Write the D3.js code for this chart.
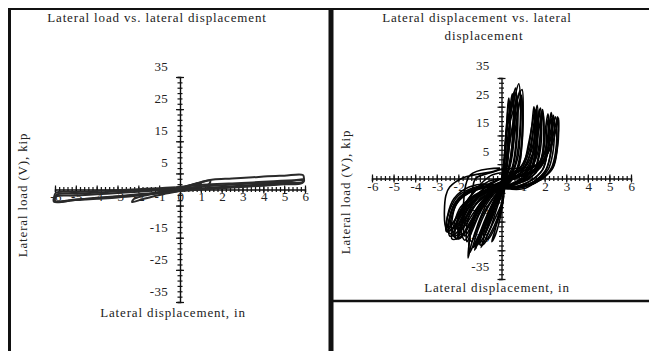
<!DOCTYPE html>
<html>
<head>
<meta charset="utf-8">
<script src="https://cdn.jsdelivr.net/npm/d3@7"></script>
<style>
  body { margin: 0; background: #fff; }
  svg text { font-family: "Liberation Serif", serif; font-size: 13px; fill: #222; letter-spacing: 0.85px; }
  svg text.tick-label { letter-spacing: 0.3px; }
</style>
</head>
<body>
<div id="chart"></div>
<script>
// tick values shared by both panels
const xTickValues = [-6, -5, -4, -3, -2, -1, 0, 1, 2, 3, 4, 5, 6];
const yTickValues = [35, 25, 15, 5, -15, -25, -35];
const yMajorValues = [35, 25, 15, 5, -5, -15, -25, -35];

// left panel: lateral load vs lateral displacement (disp in, load kip)
const leftLoops = [
  [[0,0],[0.4,1.0],[0.8,1.8],[1.0,2.1],[0.95,1.2],[0.6,0.5],[0.2,0],[0,-0.2],[-0.4,-0.6],[-0.8,-1.1],[-1.0,-1.4],[-0.9,-0.8],[-0.5,-0.2],[-0.1,0.2],[0,0.2]],
  [[0,0.2],[0.5,1.3],[1.0,2.2],[1.45,2.8],[1.4,1.7],[1.0,0.8],[0.4,0],[0,-0.4],[-0.6,-1.2],[-1.2,-2.0],[-1.8,-3.0],[-2.3,-3.9],[-2.2,-2.9],[-1.7,-1.9],[-1.0,-0.8],[-0.4,0.1],[0,0.4]],
  [[0,0.4],[0.5,1.4],[1.0,2.3],[1.6,3.1],[2.5,3.4],[3.5,3.8],[4.2,4.1],[5.0,4.3],[5.9,4.5],[5.95,3.5],[5.9,2.4],[5.0,2.0],[4.0,1.6],[3.0,1.2],[2.0,0.8],[1.0,0.3],[0,-0.3],[-1.0,-0.9],[-2.0,-1.5],[-3.0,-2.1],[-4.0,-2.6],[-5.0,-3.2],[-6.05,-3.8],[-6.05,-2.5],[-5.95,-1.0],[-5.0,-0.8],[-4.0,-0.5],[-3.0,-0.2],[-2.0,0.1],[-1.0,0.4],[-0.2,0.7]],
  [[-0.2,0.7],[0.5,1.2],[1.5,1.6],[2.5,1.9],[3.5,2.2],[4.5,2.6],[5.5,2.9],[5.95,3.1],[5.9,2.2],[5.0,1.8],[4.0,1.4],[3.0,1.0],[2.0,0.6],[1.0,0.2],[0,-0.4],[-1.0,-1.1],[-2.0,-1.7],[-3.0,-2.2],[-4.0,-2.7],[-5.0,-3.1],[-6.0,-3.5],[-5.9,-1.6],[-5.0,-1.3],[-4.0,-1.0],[-3.0,-0.6],[-2.0,-0.3],[-1.0,0.1],[0,0.4]],
  [[0,0.4],[1.0,0.9],[2.0,1.3],[3.0,1.7],[4.0,2.0],[5.0,2.4],[5.9,2.8],[5.85,2.0],[5.0,1.6],[4.0,1.2],[3.0,0.8],[2.0,0.4],[1.0,0.0],[0,-0.5],[-1.0,-1.2],[-2.0,-1.9],[-3.0,-2.5],[-4.0,-2.9],[-5.0,-3.3],[-6.0,-3.7],[-5.95,-2.2],[-5.0,-1.9],[-4.0,-1.5],[-3.0,-1.1],[-2.0,-0.7],[-1.0,-0.2],[0,0.2]]
];

// right panel: hysteresis cycles, positive half then negative half
const rightLoops = [
  [[0,-1],[0.1,5],[0.2,15],[0.3,24],[0.35,27],[0.4,22],[0.35,12],[0.2,4],[0,-1],[-0.2,-5],[-0.35,-10],[-0.45,-14],[-0.35,-11],[-0.15,-5],[0,-1]],
  [[0,-1],[0.12,6],[0.22,16],[0.4,25],[0.5,29.5],[0.55,24],[0.5,13],[0.35,4],[0.05,-2],[-0.25,-6],[-0.5,-12],[-0.65,-17],[-0.5,-13],[-0.2,-6],[0,-1]],
  [[0,-1],[0.15,7],[0.25,18],[0.5,27],[0.65,31.5],[0.72,25],[0.68,14],[0.5,4],[0.1,-2],[-0.3,-7],[-0.6,-13],[-0.85,-20],[-0.7,-16],[-0.3,-8],[0,-2]],
  [[0,-2],[0.15,6],[0.3,19],[0.6,28],[0.8,33],[0.88,26],[0.82,14],[0.6,4],[0.2,-2],[-0.3,-8],[-0.7,-15],[-1.05,-23],[-0.85,-18],[-0.4,-9],[0,-3]],
  [[0,-3],[0.2,5],[0.35,18],[0.7,27],[0.95,31],[1.0,22],[0.95,12],[0.8,4],[0.5,0],[0.1,-3],[-0.3,-7],[-0.8,-15],[-1.25,-25],[-1.0,-21],[-0.5,-12],[-0.1,-6],[0.05,0]],
  [[0.05,0],[0.2,4],[0.4,14],[0.75,24],[0.9,28],[0.98,23],[0.9,10],[0.6,1],[0.2,-3],[-0.3,-8],[-0.8,-16],[-1.1,-23],[-0.9,-19],[-0.4,-10],[0,-4]],
  [[0,-2],[0.12,4],[0.18,12],[0.25,20],[0.3,26],[0.34,28],[0.38,24],[0.36,14],[0.28,5],[0.1,-1],[-0.15,-4],[-0.4,-9],[-0.6,-15],[-0.75,-19],[-0.6,-16],[-0.25,-8],[0,-3]],
  [[0,-3],[0.2,3],[0.3,10],[0.4,20],[0.5,27],[0.58,30],[0.63,26],[0.6,16],[0.45,6],[0.2,0],[-0.1,-4],[-0.5,-11],[-0.9,-18],[-1.15,-22],[-0.95,-19],[-0.5,-12],[-0.1,-6]],
  [[-0.1,-6],[0.1,0],[0.3,8],[0.5,18],[0.7,26],[0.85,30.5],[0.9,27],[0.88,17],[0.75,7],[0.45,1],[0.1,-3],[-0.4,-9],[-0.8,-16],[-1.2,-22],[-1.3,-24],[-1.1,-22],[-0.6,-14],[-0.2,-8],[0,-3]],
  [[0,-3],[0.3,2],[0.5,10],[0.7,20],[0.85,27],[0.92,29],[0.97,25],[0.95,15],[0.85,6],[0.6,1],[0.2,-3],[-0.2,-8],[-0.6,-16],[-0.95,-24],[-0.8,-22],[-0.3,-14],[0,-9]],
  [[0,-2],[0.3,3],[0.5,12],[0.6,22],[0.7,29],[0.76,24],[0.7,12],[0.5,3],[0.15,-2],[-0.4,-9],[-0.9,-18],[-1.2,-24.5],[-1.0,-20],[-0.5,-11],[-0.05,-7]],
  [[0,-4],[0.3,0],[0.8,3],[1.2,9],[1.4,18],[1.5,25],[1.56,20],[1.5,11],[1.3,4],[0.9,0],[0.4,-2],[0,-4],[-0.5,-6],[-1.0,-10],[-1.4,-18],[-1.55,-27.7],[-1.4,-23],[-1.1,-16],[-0.7,-9],[-0.3,-5],[0,-3]],
  [[0,-3],[0.4,0.5],[0.9,3],[1.3,10],[1.5,19],[1.65,25.5],[1.7,20],[1.65,11],[1.45,4],[1.0,0],[0.5,-2],[0.1,-3],[-0.5,-4],[-1.2,-7],[-1.7,-13],[-1.85,-19],[-1.7,-21.5],[-1.35,-17],[-0.9,-10],[-0.4,-5],[0,-2]],
  [[0,-2],[0.4,1],[1.0,3.5],[1.4,10],[1.65,19],[1.8,24.5],[1.86,19],[1.8,10],[1.55,3],[1.1,-0.5],[0.5,-2.5],[0.1,-3],[-0.6,-4.5],[-1.3,-8],[-1.8,-14],[-2.0,-21],[-1.8,-20],[-1.4,-15],[-0.9,-8],[-0.3,-3],[0.1,-1]],
  [[0.1,-1],[0.5,1.5],[1.1,4],[1.55,11],[1.8,20],[1.9,24],[1.96,18],[1.9,9],[1.65,3],[1.2,-0.5],[0.6,-2],[0.1,-3],[-0.7,-4],[-1.5,-8],[-2.0,-14],[-2.2,-20],[-1.95,-19],[-1.5,-13],[-1.0,-7],[-0.4,-3],[0.1,-1]],
  [[0,-1],[0.5,2],[1.0,5],[1.25,12],[1.45,20],[1.55,24],[1.6,19],[1.55,9],[1.3,2],[0.8,-1],[0.2,-3],[-0.6,-5],[-1.3,-10],[-1.6,-16],[-1.6,-22],[-1.4,-19],[-1.0,-12],[-0.5,-6],[0,-2]],
  [[0,-3],[0.5,0],[1.0,3],[1.3,8],[1.45,15],[1.58,22],[1.62,24],[1.66,18],[1.6,9],[1.4,3],[1.0,0],[0.4,-2.5],[-0.3,-4],[-0.9,-7],[-1.5,-12],[-1.75,-17],[-1.7,-20],[-1.5,-18],[-1.1,-12],[-0.6,-6],[0,-3]],
  [[0,-3],[0.6,0.5],[1.1,3],[1.5,9],[1.65,16],[1.72,22],[1.76,24],[1.8,19],[1.75,10],[1.55,3.5],[1.1,0],[0.5,-2],[-0.2,-4],[-1.0,-6],[-1.6,-10],[-1.95,-16],[-2.0,-19.5],[-1.75,-19],[-1.3,-14],[-0.8,-8],[-0.2,-3]],
  [[-0.2,-3],[0.5,0],[1.2,2.5],[1.6,7],[1.8,15],[1.88,21],[1.92,22.5],[1.97,17],[1.9,8],[1.6,2],[1.0,-1],[0.3,-3],[-0.6,-4],[-1.4,-7],[-1.9,-12],[-2.15,-18],[-2.1,-21],[-1.85,-20],[-1.45,-15],[-0.9,-9],[-0.3,-4]],
  [[-0.3,-4],[0.3,-1],[0.9,1],[1.35,5],[1.5,13],[1.56,21],[1.6,23.5],[1.64,18],[1.58,10],[1.35,3],[0.8,-1],[0.2,-3],[-0.4,-5],[-1.0,-9],[-1.35,-15],[-1.5,-22],[-1.5,-26],[-1.35,-24],[-1.1,-18],[-0.7,-11],[-0.3,-6]],
  [[0.1,-1],[0.8,0.5],[1.5,3],[1.9,8],[2.05,18],[2.15,22.5],[2.2,18],[2.12,9],[1.9,3],[1.3,-1],[0.7,-3],[0.1,-3.5],[-0.6,-3],[-1.5,-5],[-2.1,-9],[-2.3,-15],[-2.3,-19],[-2.05,-17],[-1.6,-11],[-1.0,-6],[-0.4,-2.5],[0.1,-1]],
  [[0.1,-1],[0.9,0.8],[1.6,3.5],[2.0,9],[2.2,18],[2.3,23],[2.36,18],[2.28,9],[2.05,3],[1.5,-1],[0.9,-3],[0.2,-3.5],[-0.5,-2.5],[-1.4,-4],[-2.1,-8],[-2.4,-14],[-2.45,-18],[-2.2,-17],[-1.8,-12],[-1.2,-6],[-0.6,-2.5],[0,0]],
  [[0,0],[0.9,1],[1.7,4],[2.15,10],[2.35,17],[2.5,21.5],[2.56,17],[2.5,9],[2.3,3.5],[1.8,-0.5],[1.0,-3],[0.2,-3.5],[-0.5,-2],[-1.5,-3],[-2.2,-7],[-2.5,-13],[-2.55,-18.5],[-2.35,-18],[-1.9,-13],[-1.4,-6],[-1.2,0],[-0.5,2],[0.1,3.5]],
  [[0.1,3.5],[0.6,3.5],[1.3,4],[1.9,6],[2.35,12],[2.55,18],[2.65,21],[2.62,15],[2.55,9],[2.32,3],[1.63,-1.1],[1.0,-3.6],[0.3,-3],[0.05,3],[-0.45,2.3],[-1.8,0.2],[-2.4,-3],[-2.58,-6],[-2.62,-16],[-2.5,-18.5],[-2.3,-19.5],[-2.05,-21],[-1.85,-17],[-1.45,1.2],[-0.07,3.6]],
  [[0,-1],[0.9,1],[1.7,3],[2.1,8],[2.25,15],[2.35,20],[2.4,22],[2.45,17],[2.38,9],[2.15,3],[1.6,-1],[0.8,-3],[0,-3],[-0.8,-3],[-1.7,-5],[-2.2,-9],[-2.45,-15],[-2.5,-17],[-2.3,-16],[-1.9,-11],[-1.3,-5],[-0.6,-1],[0,0]],
  [[0,0],[1.0,1.5],[1.8,4.5],[2.25,11],[2.45,17],[2.55,20],[2.6,21.5],[2.65,17],[2.58,10],[2.4,4],[1.9,0],[1.2,-2.5],[0.4,-3],[-0.4,-2],[-1.2,-3],[-2.0,-6],[-2.4,-11],[-2.55,-16],[-2.5,-18],[-2.2,-15],[-1.7,-9],[-1.1,-3],[-0.5,1],[0,2]],
  [[0,2],[0.8,2.5],[1.5,4],[1.95,8],[2.15,14],[2.25,19],[2.3,21],[2.34,16],[2.26,8],[2.0,2],[1.4,-1.5],[0.6,-3],[-0.1,-3],[-0.9,-3],[-1.8,-6],[-2.3,-11],[-2.45,-17],[-2.4,-20],[-2.1,-19],[-1.7,-14],[-1.2,-7],[-0.6,-2],[0,0]],
  [[0,0],[0.8,1.2],[1.6,3],[2.0,7],[2.08,14],[2.12,19],[2.16,20.5],[2.2,16],[2.12,9],[1.9,3],[1.3,-1],[0.5,-3],[-0.3,-3.5],[-1.2,-6],[-1.9,-10],[-2.2,-16],[-2.3,-21],[-2.1,-21],[-1.8,-16],[-1.3,-9],[-0.7,-4],[0,-1]],
  [[0,-2],[-0.6,-3.5],[-1.3,-6],[-1.8,-10],[-2.05,-15],[-2.0,-18],[-1.75,-17],[-1.3,-12],[-0.8,-7],[-0.3,-4],[0,-2]],
  [[0,-2],[-0.7,-3],[-1.5,-5],[-2.0,-8],[-2.3,-13],[-2.35,-17],[-2.15,-17],[-1.7,-12],[-1.1,-6],[-0.5,-3],[0,-1.5]],
  [[0,-3],[-0.5,-5],[-1.0,-9],[-1.35,-14],[-1.5,-19],[-1.4,-22],[-1.2,-19],[-0.9,-13],[-0.5,-8],[-0.1,-4]],
  [[0,-5],[-0.2,-9],[-0.5,-15],[-0.8,-20],[-1.0,-23],[-0.85,-23],[-0.5,-19],[-0.2,-14],[0,-9],[0.1,-4]],
  [[0.1,-4],[-0.2,-10],[-0.45,-16],[-0.7,-21],[-0.6,-21],[-0.3,-17],[-0.05,-12],[0.1,-6]],
  [[0.1,-6],[-0.1,-12],[-0.3,-18],[-0.45,-22],[-0.3,-20],[-0.1,-15],[0.05,-9],[0.15,-3]]
];

const svg = d3.select('#chart').append('svg')
  .attr('width', 649)
  .attr('height', 351);

svg.append('rect').attr('width', 649).attr('height', 351).attr('fill', '#fff');

// panel frames
const frame = svg.append('g').attr('stroke', '#111').attr('fill', 'none');
frame.append('line').attr('x1', 8).attr('x2', 649).attr('y1', 9).attr('y2', 9).attr('stroke-width', 2);
frame.append('line').attr('x1', 9.5).attr('x2', 9.5).attr('y1', 8).attr('y2', 351).attr('stroke-width', 3);
frame.append('line').attr('x1', 331).attr('x2', 331).attr('y1', 8).attr('y2', 351).attr('stroke-width', 5);
frame.append('line').attr('x1', 331).attr('x2', 649).attr('y1', 301).attr('y2', 301).attr('stroke-width', 2.5);

function drawPanel(cfg) {
  const x = d3.scaleLinear().domain([-6, 6]).range(cfg.xRange);
  const y = d3.scaleLinear().domain([-35, 35]).range(cfg.yRange);
  const g = svg.append('g');

  // tick labels first, the loops paint over them
  g.append('g').selectAll('text').data(xTickValues).join('text')
    .attr('class', 'tick-label')
    .attr('x', d => x(d) + 1)
    .attr('y', y(0) + cfg.xLabelDy)
    .attr('text-anchor', 'middle')
    .text(d => String(d));
  g.append('g').selectAll('text').data(yTickValues).join('text')
    .attr('class', 'tick-label')
    .attr('x', x(0) - 12)
    .attr('y', d => y(d) - cfg.yLabelDy)
    .attr('text-anchor', 'end')
    .text(d => String(d));

  // axes crossing at the origin
  const xMinor = d3.range(-30, 31).map(d => d / 5);
  const yMinor = d3.range(-21, 22).map(d => d * 10 / 6);
  const xAxis = g.append('g').attr('transform', `translate(0,${y(0)})`)
    .call(d3.axisBottom(x).tickValues(xMinor).tickSize(2.5).tickFormat(''));
  xAxis.selectAll('.tick line').attr('y1', -2.5);
  const xMajor = g.append('g').attr('transform', `translate(0,${y(0)})`)
    .call(d3.axisBottom(x).tickValues(xTickValues).tickSize(4).tickFormat(''));
  xMajor.selectAll('.tick line').attr('y1', -4);
  xMajor.select('.domain').remove();

  const yAxis = g.append('g').attr('transform', `translate(${x(0)},0)`)
    .call(d3.axisLeft(y).tickValues(yMinor).tickSize(2.5).tickFormat(''));
  yAxis.selectAll('.tick line').attr('x1', 2.5);
  const yMajor = g.append('g').attr('transform', `translate(${x(0)},0)`)
    .call(d3.axisLeft(y).tickValues(yMajorValues).tickSize(4).tickFormat(''));
  yMajor.selectAll('.tick line').attr('x1', 4);
  yMajor.select('.domain').remove();
  g.selectAll('.domain').attr('stroke', '#111').attr('stroke-width', 1.4);
  g.selectAll('.tick line').attr('stroke', '#111').attr('stroke-width', 1.2);

  // loops
  const line = d3.line().x(d => x(d[0])).y(d => y(d[1])).curve(d3.curveCatmullRom.alpha(0.5));
  g.append('g').selectAll('path').data(cfg.loops).join('path')
    .attr('d', line)
    .attr('fill', 'none')
    .attr('stroke', cfg.color)
    .attr('stroke-width', cfg.lineWidth)
    .attr('stroke-linejoin', 'round');

  // titles
  cfg.title.forEach(t => {
    g.append('text').attr('x', t[1]).attr('y', t[2]).attr('text-anchor', 'middle').text(t[0]);
  });
  g.append('text').attr('x', cfg.xTitle[0]).attr('y', cfg.xTitle[1]).attr('text-anchor', 'middle')
    .text('Lateral displacement, in');
  g.append('text').attr('transform', `translate(${cfg.yTitle[0]},${cfg.yTitle[1]}) rotate(-90)`)
    .attr('text-anchor', 'middle')
    .text('Lateral load (V), kip');
}

drawPanel({
  xRange: [55, 305], yRange: [302, 77], loops: leftLoops, color: '#2a2a2a', lineWidth: 2,
  xLabelDy: 11.5, yLabelDy: 6,
  title: [['Lateral load vs. lateral displacement', 157, 22]],
  xTitle: [173, 317], yTitle: [27, 195]
});

drawPanel({
  xRange: [372, 631], yRange: [279, 78], loops: rightLoops, color: '#000', lineWidth: 1.6,
  xLabelDy: 12.5, yLabelDy: 8,
  title: [['Lateral displacement vs. lateral', 477, 22], ['displacement', 484, 40]],
  xTitle: [497, 292], yTitle: [350, 192]
});
</script>
</body>
</html>
